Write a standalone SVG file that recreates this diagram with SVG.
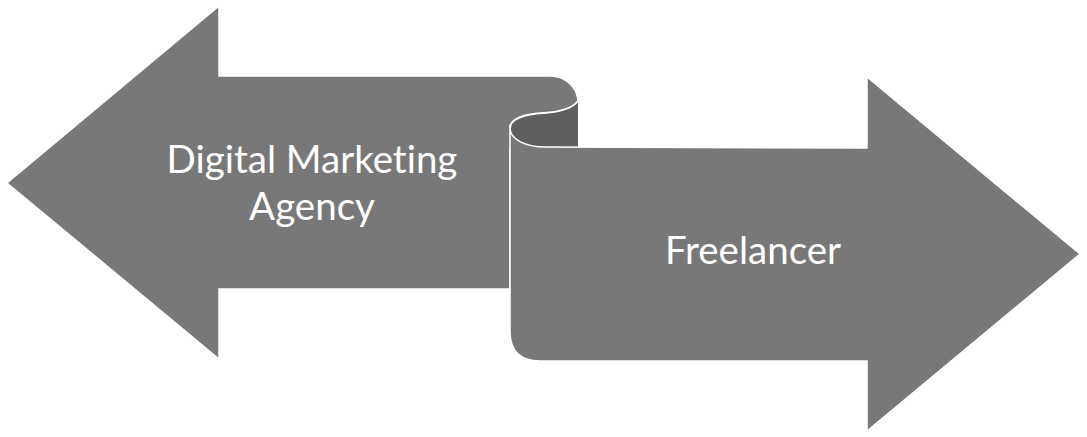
<svg xmlns="http://www.w3.org/2000/svg" width="1087" height="437" viewBox="0 0 1087 437">
<style>
.body{fill:#787878;stroke:#ffffff;stroke-width:1.5;stroke-linejoin:miter}
.fold{fill:#5f5f5f;stroke:none}
.edge{fill:none;stroke:#ffffff;stroke-width:2}
.lbl{font-family:Lato,"Open Sans",sans-serif;font-size:38.5px;fill:#ffffff;text-anchor:middle;font-variant-ligatures:none}
</style>
<rect width="1087" height="437" fill="#ffffff"/>
<g id="agency">
<path class="body" d="M7,183 L219,6 L219,76 L550,76 A28,26 0 0 1 578,102 L578,147 L510,147 L510,289 L219,289 L219,359 Z"/>
<text class="lbl" x="312" y="173">Digital Marketing</text>
<text class="lbl" x="312" y="220">Agency</text>
</g>
<g id="fold">
<path class="fold" d="M578,101 C572,109 558,112 544,113 C524,114 510,119 510,128 C510,139 525,147 545,147 L578,147 Z"/>
<path class="edge" d="M578,101 C572,109 558,112 544,113 C524,114 510,119 510,128"/>
</g>
<g id="freelancer">
<path class="body" d="M510,128 C510,139 525,147 545,147 L867,148 L867,77 L1080,254 L867,431 L867,361 L540,361 Q510,361 510,331 Z"/>
<text class="lbl" x="753" y="264">Freelancer</text>
</g>
<g id="connectors"/>
</svg>
